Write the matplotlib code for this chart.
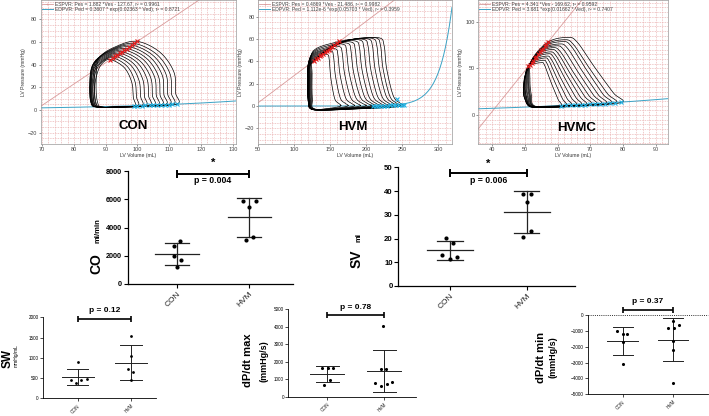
import numpy as np
import matplotlib
matplotlib.use("Agg")
import matplotlib.pyplot as plt
from matplotlib.lines import Line2D
from matplotlib.ticker import MultipleLocator

plt.rcParams['font.family'] = ['Liberation Sans', 'DejaVu Sans']

# ---------------- data: PV loops ----------------
# CON
con_edv = [99, 100, 101.3, 102.5, 103.8, 105, 106.2, 107.4, 108.6, 109.8, 111, 112.3]
con_ped = [3.7, 3.8, 3.9, 4.0, 4.1, 4.3, 4.4, 4.5, 4.7, 4.8, 4.9, 5.1]
con_ves = [91.5, 92.2, 93, 93.7, 94.4, 95.1, 95.9, 96.6, 97.4, 98.2, 99, 100]
con_pes = [44.5, 46, 47.3, 48.6, 50, 51.3, 52.8, 54.2, 55.7, 57.2, 58.7, 60.5]
con_vmin = [86.5, 86, 85.7, 85.4, 85.2, 85, 85, 85.2, 85.5, 86, 86.5, 87]
con_pb = 2.5
con_espvr = (1.882, -127.67)
con_edpvr = (0.3607, 0.02363)

# HVM
hvm_edv = [165, 175, 184, 192, 200, 207, 213, 219, 225, 231, 237, 243, 248, 253]
hvm_vr = [149, 155, 161, 167, 173, 179, 185, 191, 197, 203, 209, 215, 220, 225]
hvm_ves = [128, 130.5, 133, 135.5, 138, 140.5, 143, 145.5, 148, 150.5, 153, 156, 159.5, 163]
hvm_pes = [40.8, 42, 43.3, 44.5, 45.7, 46.9, 48.1, 49.4, 50.6, 51.8, 53, 54.5, 56.2, 57.9]
hvm_pmax = [46, 49, 51, 53, 55, 56, 57, 58, 59, 59.5, 60, 60.5, 61, 61]
hvm_vmin = [120, 119.5, 119, 119, 119, 119.5, 120, 120.5, 121, 121.5, 122, 123, 124, 125]
hvm_pb = -3
hvm_ed_v = [209, 213, 217, 221, 225, 229, 233, 237, 241, 245, 249, 253, 243]
hvm_ed_p = [0.2, 0.2, 0.3, 0.3, 0.4, 0.4, 0.5, 0.5, 0.6, 0.6, 0.7, 0.8, 6]
hvm_espvr = (0.4869, -21.486)
hvm_edpvr = (1.112e-6, 0.05703)

# HVMC
hvmc_edv = [61, 62.5, 64, 65.5, 67, 68.5, 70, 71.5, 73, 74.5, 76, 77.5, 79.5]
hvmc_ped = [10, 10.3, 10.5, 10.8, 11, 11.2, 11.5, 11.8, 12, 12.3, 12.6, 13, 13.4]
hvmc_vtop = [55, 55.5, 56, 56.5, 57, 57.5, 58, 58.5, 59.5, 60.5, 61.5, 62, 63]
hvmc_ves = [51, 51.5, 52, 52.5, 53, 53.5, 54, 54.5, 55, 55.5, 56, 56.5, 57]
hvmc_pes = [52, 54, 56, 58, 60.5, 62.5, 65, 67, 69, 71, 73.5, 75.5, 78]
hvmc_pmax = [56, 58.5, 61, 63, 65.5, 67.5, 70, 72, 74, 76, 78.5, 80.5, 83]
hvmc_vmin = [49.5, 49.5, 49.5, 49.7, 49.8, 50, 50, 50.3, 50.5, 50.8, 51, 51.2, 51.5]
hvmc_pb = 9
hvmc_espvr = (4.341, -169.62)
hvmc_edpvr = (3.681, 0.01662)

con_leg = ["ESPVR: Pes = 1.882 *Ves - 127.67, r² = 0.9961",
           "EDPVR: Ped = 0.3607 * exp(0.02363 * Ved), r² = 0.8721"]
hvm_leg = ["ESPVR: Pes = 0.4869 *Ves - 21.486, r² = 0.9982",
           "EDPVR: Ped = 1.112e-6 *exp(0.05703 * Ved), r² = 0.3959"]
hvmc_leg = ["ESPVR: Pes = 4.341 *Ves - 169.62, r² = 0.9592",
            "EDPVR: Ped = 3.681 *exp(0.01662 * Ved), r² = 0.7407"]

# ---------------- data: group comparisons ----------------
groups = ["CON", "HVM"]
co_con = [3060, 2710, 1960, 1720, 1200]
co_hvm = [5890, 5890, 5420, 3300, 3110]
sv_con = [20.4, 18.1, 13.1, 12.1, 11.3]
sv_hvm = [38.8, 38.8, 35.4, 23.2, 20.5]
sw_con = [890, 440, 455, 385, 470]
sw_hvm = [1540, 1040, 720, 655, 450]
dpmax_con = [1620, 1650, 1650, 950, 650]
dpmax_hvm = [4060, 1570, 1570, 800, 610, 730, 860]
dpmin_con = [-1010, -1195, -1195, -1700, -3100]
dpmin_hvm = [-380, -840, -840, -630, -1640, -2200, -4300]
p_co, p_sv, p_sw, p_dpmax, p_dpmin = "p = 0.004", "p = 0.006", "p = 0.12", "p = 0.78", "p = 0.37"

# ---------------- layout helpers ----------------
W, H = 709, 416
fig = plt.figure(figsize=(7.09, 4.16), dpi=100)


def add_ax(x0, y0, x1, y1):
    return fig.add_axes([x0 / W, 1 - y1 / H, (x1 - x0) / W, (y1 - y0) / H])


def catmull_closed(pts, n=14):
    P = np.asarray(pts, dtype=float)
    N = len(P)
    t = np.linspace(0, 1, n, endpoint=False)[:, None]
    out = []
    for i in range(N):
        p0, p1, p2, p3 = P[(i - 1) % N], P[i], P[(i + 1) % N], P[(i + 2) % N]
        seg = 0.5 * (2 * p1 + (-p0 + p2) * t + (2 * p0 - 5 * p1 + 4 * p2 - p3) * t ** 2
                     + (-p0 + 3 * p1 - 3 * p2 + p3) * t ** 3)
        out.append(seg)
    out.append(P[:1])
    return np.vstack(out)


def con_loop(edv, ped, ves, pes, vmin, pb):
    w1 = edv - ves
    return [(edv, ped), (edv - 0.3, 0.25 * pes), (edv - 0.8, 0.55 * pes),
            (edv - 0.42 * w1, 0.84 * pes), (ves, pes),
            (ves - 0.5 * (ves - vmin), 0.93 * pes), (vmin + 1.0, 0.76 * pes),
            (vmin, 0.45 * pes), (vmin + 0.4, 0.12 * pes), (vmin + 2.5, pb),
            (0.5 * (vmin + edv), pb + 0.3)]


def hvm_loop(edv, ped, vr, ves, pes, pmax, vmin, pb):
    dr = edv - vr
    return [(edv, ped), (vr + 0.8 * dr, 2.5), (vr + 0.45 * dr, 0.15 * pmax),
            (vr + 0.12 * dr, 0.55 * pmax), (vr, 0.88 * pmax),
            (vr - 0.1 * (vr - ves), pmax), (ves + 0.45 * (vr - ves), 0.99 * pmax),
            (ves, pes), (vmin + 1.5, 0.85 * pes), (vmin, 0.5 * pes),
            (vmin + 0.5, 0.12 * pes), (vmin + 6, pb), (0.5 * (vmin + edv), pb + 0.5),
            (edv - 0.12 * (edv - vmin), pb + 2)]


def hvmc_loop(edv, ped, vtop, ves, pes, pmax, vmin, pb):
    dt = edv - vtop
    return [(edv, ped), (edv - 0.15 * dt, ped + 0.15 * (pmax - ped)),
            (vtop + 0.5 * dt, 0.62 * pmax), (vtop + 0.18 * dt, 0.94 * pmax),
            (vtop, pmax), (ves, pes), (vmin + 0.5, 0.75 * pes), (vmin, 0.5 * pes),
            (vmin + 0.4, pb + 0.2 * (pes - pb)), (vmin + 2, pb),
            (0.5 * (vmin + edv), pb + 0.3)]


GRID = '#e7a9a9'
ESP_C = '#d99a9a'
EDP_C = '#3aa3c6'


def pv_axes(px, xlim, ylim, xmaj, ymaj, xmin_, ymin_):
    ax = add_ax(*px)
    ax.set_xlim(*xlim)
    ax.set_ylim(*ylim)
    ax.xaxis.set_major_locator(MultipleLocator(xmaj))
    ax.yaxis.set_major_locator(MultipleLocator(ymaj))
    ax.xaxis.set_minor_locator(MultipleLocator(xmin_))
    ax.yaxis.set_minor_locator(MultipleLocator(ymin_))
    ax.grid(which='both', color=GRID, ls=(0, (1.2, 1.2)), lw=0.5)
    ax.set_axisbelow(True)
    ax.tick_params(which='major', labelsize=4, length=1.5, width=0.4, colors='#444', pad=1)
    ax.tick_params(which='minor', length=0)
    for s in ax.spines.values():
        s.set_color('#999')
        s.set_linewidth(0.5)
    ax.set_xlabel('LV Volume (mL)', fontsize=3.7, labelpad=0.5, color='#333')
    ax.set_ylabel('LV Pressure (mmHg)', fontsize=3.7, labelpad=1.5, color='#333')
    return ax


def pv_lines(ax, espvr, edpvr, xlim, leg):
    v = np.linspace(xlim[0], xlim[1], 300)
    ax.plot(v, espvr[0] * v + espvr[1], color=ESP_C, lw=0.6, zorder=2)
    ax.plot(v, edpvr[0] * np.exp(edpvr[1] * v), color=EDP_C, lw=0.7, zorder=2)
    h = [Line2D([], [], color=ESP_C, lw=0.6, marker='+', ms=2, mew=0.4),
         Line2D([], [], color=EDP_C, lw=0.7)]
    ax.legend(h, leg, loc='upper left', fontsize=3.6, frameon=False, handlelength=2.2,
              borderaxespad=0.15, labelspacing=0.15, handletextpad=0.4, borderpad=0.1,
              labelcolor='#444')


# ---- CON ----
xl = (69.5, 131)
ax = pv_axes((40.5, 0, 236, 144), xl, (-30, 97), 10, 20, 2, 5)
pv_lines(ax, con_espvr, con_edpvr, xl, con_leg)
for i in range(len(con_edv)):
    c = catmull_closed(con_loop(con_edv[i], con_ped[i], con_ves[i], con_pes[i], con_vmin[i], con_pb))
    ax.plot(c[:, 0], c[:, 1], color='k', lw=0.5, zorder=3)
ax.plot(con_ves, con_pes, ls='none', marker='x', ms=2.5, mew=0.8, color='#e31b1b', zorder=4)
ax.plot(con_edv, con_ped, ls='none', marker='x', ms=2.5, mew=0.8, color='#22b4e6', zorder=4)
fig.text(133 / W, 1 - 126 / H, 'CON', ha='center', va='center', fontsize=9.5, weight='bold')

# ---- HVM ----
xl = (50, 319)
ax = pv_axes((258, 0, 452, 144), xl, (-34, 95), 50, 20, 10, 5)
pv_lines(ax, hvm_espvr, hvm_edpvr, xl, hvm_leg)
for i in range(len(hvm_edv)):
    c = catmull_closed(hvm_loop(hvm_edv[i], 0.5, hvm_vr[i], hvm_ves[i], hvm_pes[i],
                                hvm_pmax[i], hvm_vmin[i], hvm_pb))
    ax.plot(c[:, 0], c[:, 1], color='k', lw=0.5, zorder=3)
ax.plot(hvm_ves, hvm_pes, ls='none', marker='x', ms=2.5, mew=0.8, color='#e31b1b', zorder=4)
ax.plot(hvm_ed_v, hvm_ed_p, ls='none', marker='x', ms=2.5, mew=0.8, color='#22b4e6', zorder=4)
fig.text(353 / W, 1 - 126.5 / H, 'HVM', ha='center', va='center', fontsize=9.5, weight='bold')

# ---- HVMC ----
xl = (35.6, 93.8)
ax = pv_axes((478, 0, 668, 144), xl, (-31, 123), 10, 50, 2, 5)
pv_lines(ax, hvmc_espvr, hvmc_edpvr, xl, hvmc_leg)
for i in range(len(hvmc_edv)):
    c = catmull_closed(hvmc_loop(hvmc_edv[i], hvmc_ped[i], hvmc_vtop[i], hvmc_ves[i],
                                 hvmc_pes[i], hvmc_pmax[i], hvmc_vmin[i], hvmc_pb))
    ax.plot(c[:, 0], c[:, 1], color='k', lw=0.5, zorder=3)
ax.plot(hvmc_ves, hvmc_pes, ls='none', marker='x', ms=2.5, mew=0.8, color='#e31b1b', zorder=4)
ax.plot(hvmc_edv, hvmc_ped, ls='none', marker='x', ms=2.5, mew=0.8, color='#22b4e6', zorder=4)
fig.text(576.7 / W, 1 - 128.3 / H, 'HVMC', ha='center', va='center', fontsize=9.5, weight='bold')


# ---------------- dot plots ----------------
def dot_panel(px, vals, offs, xlim, ylim, ystep, tfs, xfs, ms, mw, cw, lw, tickbold, tl=3):
    ax = add_ax(*px)
    for i, (v, o) in enumerate(zip(vals, offs)):
        x = i + 1
        v = np.asarray(v, float)
        m, s = v.mean(), v.std(ddof=1)
        ax.scatter(x + np.asarray(o), v, s=ms, color='k', zorder=3, linewidths=0)
        ax.plot([x - mw, x + mw], [m, m], color='#222', lw=lw, zorder=2)
        ax.plot([x, x], [m - s, m + s], color='#222', lw=lw, zorder=2)
        ax.plot([x - cw, x + cw], [m + s, m + s], color='#222', lw=lw, zorder=2)
        ax.plot([x - cw, x + cw], [m - s, m - s], color='#222', lw=lw, zorder=2)
    ax.set_xlim(*xlim)
    ax.set_ylim(*ylim)
    ax.yaxis.set_major_locator(MultipleLocator(ystep))
    ax.set_xticks([1, 2])
    ax.set_xticklabels(groups, rotation=45, ha='right', rotation_mode='anchor',
                       fontsize=xfs, color='#222')
    for sp in ('top', 'right'):
        ax.spines[sp].set_visible(False)
    for sp in ('left', 'bottom'):
        ax.spines[sp].set_linewidth(0.9 if tl > 2 else 0.6)
    ax.tick_params(axis='y', labelsize=tfs, length=tl, width=0.8 if tl > 2 else 0.5, pad=1)
    ax.tick_params(axis='x', length=tl, width=0.8 if tl > 2 else 0.5, pad=1.5)
    if tickbold:
        for t in ax.get_yticklabels():
            t.set_fontweight('bold')
    return ax


def bracket(ax, y, lw, cap, x1=1, x2=2):
    ax.plot([x1, x2], [y, y], color='k', lw=lw, clip_on=False, solid_capstyle='butt')
    ax.plot([x1, x2], [y, y], ls='none', marker='|', ms=cap, mew=lw, color='k', clip_on=False)


# CO
ax = dot_panel((127.7, 171, 293, 284), [co_con, co_hvm],
               [[0.046, -0.032, -0.037, 0.055, 0.0], [-0.092, 0.092, 0.0, 0.046, -0.046]],
               (0.325, 2.6), (0, 8000), 2000, 5.2, 6, 9, 0.3, 0.165, 0.9, True)
bracket(ax, 7820, 1.4, 6)
ax.text(1.5, 8600, '*', ha='center', va='center', fontsize=8, weight='bold')
ax.text(1.5, 7350, p_co, ha='center', va='center', fontsize=6.3, weight='bold')
fig.text(96 / W, 1 - 264 / H, 'CO', rotation=90, ha='center', va='center', fontsize=10, weight='bold')
fig.text(98 / W, 1 - 231 / H, 'ml/min', rotation=90, ha='center', va='center', fontsize=5.5, weight='bold')

# SV
ax = dot_panel((398.3, 167.3, 575, 286), [sv_con, sv_hvm],
               [[-0.052, 0.043, -0.1, 0.096, 0.0], [-0.043, 0.052, 0.0, 0.052, -0.043]],
               (0.326, 2.63), (0, 50), 10, 5.6, 6, 9, 0.3, 0.165, 0.9, True)
bracket(ax, 47.5, 1.4, 6)
ax.text(1.5, 51.5, '*', ha='center', va='center', fontsize=8, weight='bold')
ax.text(1.5, 44.6, p_sv, ha='center', va='center', fontsize=6.3, weight='bold')
fig.text(357 / W, 1 - 259 / H, 'SV', rotation=90, ha='center', va='center', fontsize=10, weight='bold')
fig.text(359 / W, 1 - 237 / H, 'ml', rotation=90, ha='center', va='center', fontsize=5.5, weight='bold')

# SW
ax = dot_panel((42.7, 317.3, 156, 398.3), [sw_con, sw_hvm],
               [[0.012, -0.125, 0.063, -0.031, 0.169], [0.0, -0.006, -0.056, 0.031, -0.006]],
               (0.343, 2.47), (0, 2000), 500, 3.3, 3.4, 4, 0.3, 0.2, 0.7, False, tl=2)
bracket(ax, 1955, 1.2, 5)
ax.text(1.5, 2160, p_sw, ha='center', va='center', fontsize=6, weight='bold')
fig.text(8 / W, 1 - 359 / H, 'SW', rotation=90, ha='center', va='center', fontsize=8.5, weight='bold')
fig.text(16 / W, 1 - 356 / H, 'mmHg/mL', rotation=90, ha='center', va='center', fontsize=3.6)

# dP/dt max
ax = dot_panel((288.3, 309.3, 415.7, 396.7), [dpmax_con, dpmax_hvm],
               [[-0.094, 0.006, 0.094, 0.041, -0.053],
                [-0.029, -0.064, 0.023, -0.164, -0.058, 0.041, 0.135]],
               (0.316, 2.55), (0, 5000), 1000, 3.3, 3.4, 5, 0.3, 0.2, 0.7, False, tl=2)
bracket(ax, 4676, 1.2, 5)
ax.text(1.5, 5130, p_dpmax, ha='center', va='center', fontsize=6, weight='bold')
fig.text(248 / W, 1 - 360 / H, 'dP/dt max', rotation=90, ha='center', va='center', fontsize=8, weight='bold')
fig.text(264 / W, 1 - 361 / H, '(mmHg/s)', rotation=90, ha='center', va='center', fontsize=6.5, weight='bold')

# dP/dt min
ax = dot_panel((587.7, 315, 707.7, 394.3), [dpmin_con, dpmin_hvm],
               [[-0.119, 0.0, 0.092, 0.0, 0.0], [0.0, -0.099, 0.007, 0.112, 0.0, 0.0, 0.0]],
               (0.31, 2.68), (-5000, 0), 1000, 3.3, 3.4, 5, 0.3, 0.2, 0.7, False, tl=2)
ax.axhline(0, color='#333', lw=0.7, ls=(0, (1, 1.2)), clip_on=False)
bracket(ax, 314, 1.2, 5)
ax.text(1.5, 850, p_dpmin, ha='center', va='center', fontsize=6, weight='bold')
fig.text(541 / W, 1 - 357 / H, 'dP/dt min', rotation=90, ha='center', va='center', fontsize=8, weight='bold')
fig.text(553 / W, 1 - 357 / H, '(mmHg/s)', rotation=90, ha='center', va='center', fontsize=6.5, weight='bold')

fig.savefig('out.png', dpi=100, facecolor='white')
